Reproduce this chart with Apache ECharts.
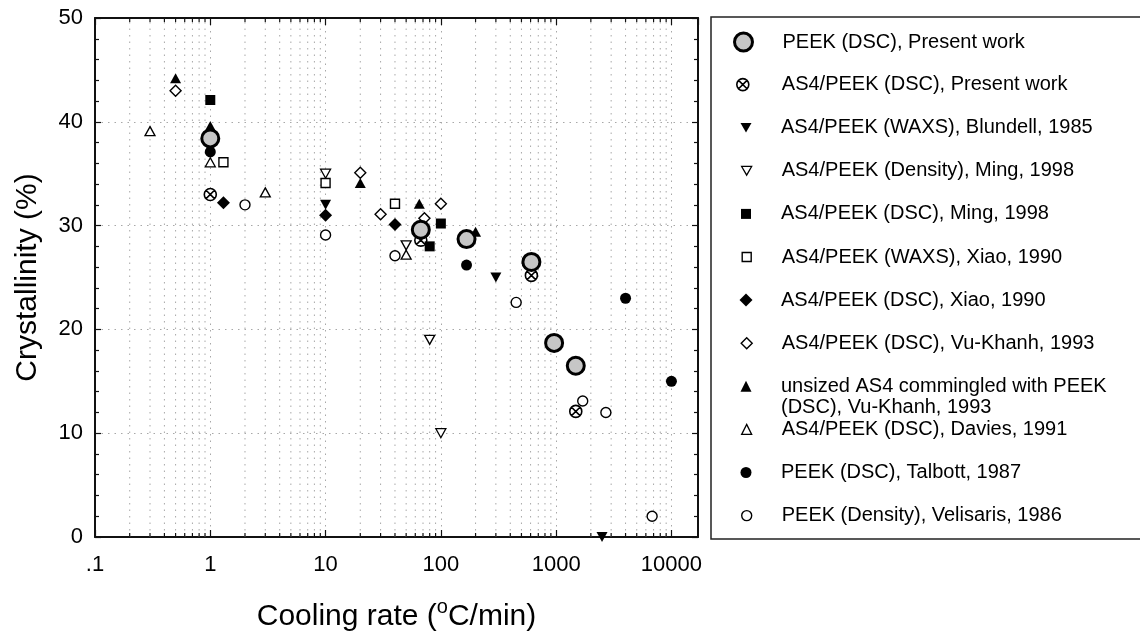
<!DOCTYPE html>
<html>
<head>
<meta charset="utf-8">
<script src="https://cdn.jsdelivr.net/npm/echarts@6/dist/echarts.min.js"></script>
<style>
  html, body { margin: 0; padding: 0; background: #fff; }
  #main { width: 1140px; height: 637px; }
</style>
</head>
<body>
<div id="main"></div>
<script>
var FONT = "'Liberation Sans', Arial, sans-serif";

// tick labels of the log axis
var xTickValues = [0.1, 1, 10, 100, 1000, 10000];
var xTickLabels = ['.1', '1', '10', '100', '1000', '10000'];

// legend names, in legend order
var seriesNames = [
  'PEEK (DSC), Present work',
  'AS4/PEEK (DSC), Present work',
  'AS4/PEEK (WAXS), Blundell, 1985',
  'AS4/PEEK (Density), Ming, 1998',
  'AS4/PEEK (DSC), Ming, 1998',
  'AS4/PEEK (WAXS), Xiao, 1990',
  'AS4/PEEK (DSC), Xiao, 1990',
  'AS4/PEEK (DSC), Vu-Khanh, 1993',
  'unsized AS4 commingled with PEEK\n(DSC), Vu-Khanh, 1993',
  'AS4/PEEK (DSC), Davies, 1991',
  'PEEK (DSC), Talbott, 1987',
  'PEEK (Density), Velisaris, 1986'
];

// [cooling rate (°C/min), crystallinity (%)]
var peekPresent    = [[1, 38.4], [67, 29.6], [167, 28.7], [610, 26.5], [960, 18.7], [1480, 16.5]];
var as4Present     = [[1, 33], [67, 28.6], [610, 25.2], [1480, 12.1]];
var blundellWaxs   = [[10, 32], [300, 25], [2500, 0]];
var mingDensity    = [[10, 35], [50, 28.1], [80, 19], [100, 10]];
var mingDsc        = [[1, 42.1], [100, 30.2], [80, 28]];
var xiaoWaxs       = [[1.3, 36.1], [10, 34.1], [40, 32.1]];
var xiaoDsc        = [[1.3, 32.2], [10, 31], [40, 30.1]];
var vuKhanhDsc     = [[0.5, 43], [20, 35.1], [30, 31.1], [72, 30.7], [100, 32.1]];
var unsizedAs4     = [[0.5, 44.2], [1, 39.6], [20, 34.1], [65, 32.1], [200, 29.4]];
var daviesDsc      = [[0.3, 39.1], [1, 36.1], [3, 33.2], [50, 27.2]];
var talbottDsc     = [[1, 37.1], [167, 26.2], [4000, 23], [10000, 15]];
var velisarisDens  = [[2, 32], [10, 29.1], [40, 27.1], [450, 22.6], [1700, 13.1], [2700, 12], [6800, 2]];

var seriesData = [peekPresent, as4Present, blundellWaxs, mingDensity, mingDsc, xiaoWaxs,
                  xiaoDsc, vuKhanhDsc, unsizedAs4, daviesDsc, talbottDsc, velisarisDens];

var crossCircle = 'path://M6,0 A6,6 0 1,1 -6,0 A6,6 0 1,1 6,0 Z M-4.2,-4.2 L4.2,4.2 M4.2,-4.2 L-4.2,4.2';
var downTri = 'path://M0,0 L12,0 L6,10.4 Z';

// marker look for each series
var looks = [
  {symbol: 'circle', size: 17, fill: '#c6c6c6', bw: 3, z: 5, legend: 18, cx: 742},
  {symbol: crossCircle, size: 12, fill: '#fff', bw: 1.6, cx: 742},
  {symbol: downTri, size: [11, 10], fill: '#000', bw: 0},
  {symbol: downTri, size: [10, 9], fill: '#fff', bw: 1.3},
  {symbol: 'rect', size: 10, fill: '#000', bw: 0},
  {symbol: 'rect', size: 9, fill: '#fff', bw: 1.4},
  {symbol: 'diamond', size: 13, fill: '#000', bw: 0},
  {symbol: 'diamond', size: 11, fill: '#fff', bw: 1.4},
  {symbol: 'triangle', size: [11, 10], fill: '#000', bw: 0},
  {symbol: 'triangle', size: [10, 9], fill: '#fff', bw: 1.3},
  {symbol: 'circle', size: 11, fill: '#000', bw: 0},
  {symbol: 'circle', size: 10, fill: '#fff', bw: 1.4}
];

// minor positions of the log axis (2..9 in each decade)
var minorX = [];
xTickValues.slice(0, -1).forEach(function (d) {
  for (var k = 2; k <= 9; k++) minorX.push([d * k, 0]);
});

var myChart = echarts.init(document.getElementById('main'), null, {renderer: 'canvas'});

function tickLabel(v) {
  var e = Math.log(v) / Math.LN10;
  for (var i = 0; i < xTickValues.length; i++) {
    if (Math.abs(e - Math.log(xTickValues[i]) / Math.LN10) < 0.01) return xTickLabels[i];
  }
  return '';
}

function renderMinor(params, api) {
  var x = api.value(0);
  var b = api.coord([x, 0]);
  var t = api.coord([x, 50]);
  var tick = {stroke: '#111', lineWidth: 1.2};
  return {
    type: 'group',
    children: [
      {type: 'line', shape: {x1: b[0], y1: b[1], x2: t[0], y2: t[1]},
       style: {stroke: '#a8a8a8', lineWidth: 1, lineDash: [1.5, 5]}},
      {type: 'line', shape: {x1: b[0], y1: b[1], x2: b[0], y2: b[1] - 4}, style: tick},
      {type: 'line', shape: {x1: t[0], y1: t[1], x2: t[0], y2: t[1] + 4}, style: tick}
    ]
  };
}

var axisLine = {show: true, onZero: false, lineStyle: {color: '#111', width: 2}};
var tickStyle = {color: '#111', width: 1.2};
var gridDots = {color: '#a8a8a8', width: 1, type: [1.5, 5]};

var series = [{
  type: 'custom',
  name: 'minor',
  data: minorX,
  renderItem: renderMinor,
  silent: true,
  z: 1,
  encode: {x: 0, y: 1}
}];

seriesNames.forEach(function (name, i) {
  var lk = looks[i];
  series.push({
    type: 'scatter',
    name: name,
    data: seriesData[i],
    symbol: lk.symbol,
    symbolSize: lk.size,
    z: lk.z || 3,
    itemStyle: {color: lk.fill, borderColor: '#000', borderWidth: lk.bw, opacity: 1},
    emphasis: {disabled: true}
  });
});

var legends = seriesNames.map(function (name, i) {
  var lk = looks[i];
  var s = lk.legend || (Array.isArray(lk.size) ? Math.max(lk.size[0], lk.size[1]) : lk.size);
  var cx = lk.cx || 746;
  var two = name.indexOf('\n') >= 0;
  var rowY = 41.5 + i * 43.1;
  return {
    data: [name],
    orient: 'vertical',
    align: 'left',
    padding: 0,
    selectedMode: false,
    left: cx - s / 2,
    top: rowY - (two ? 31.5 : 10),
    itemWidth: s,
    itemHeight: s,
    // blank first line keeps the first text line level with the symbol
    formatter: two ? function (n) { return ' \n' + n; } : '{name}',
    itemStyle: {borderWidth: lk.bw, borderColor: '#000'},
    textStyle: {
      fontFamily: FONT, fontSize: 20, color: '#000',
      lineHeight: two ? 21 : 20,
      padding: [0, 0, 0, 781 - (cx + s / 2 + 5)]
    }
  };
});

var option = {
  animation: false,
  backgroundColor: '#fff',
  textStyle: {fontFamily: FONT},
  grid: {left: 95, top: 18, width: 603, height: 519, containLabel: false, outerBoundsMode: 'none'},
  legend: legends,
  xAxis: [{
    type: 'log',
    logBase: 10,
    min: 0.1,
    max: 17000,
    position: 'bottom',
    axisLine: axisLine,
    axisTick: {show: true, inside: true, length: 7, lineStyle: tickStyle},
    axisLabel: {formatter: tickLabel, fontSize: 22, color: '#000', margin: 17,
                fontFamily: FONT, showMaxLabel: false},
    splitLine: {show: true, lineStyle: gridDots},
    name: 'Cooling rate ({sup|o}C/min)',
    nameLocation: 'middle',
    nameGap: 60,
    nameTextStyle: {fontSize: 30, lineHeight: 40, color: '#000', fontFamily: FONT,
                    rich: {sup: {fontSize: 20, lineHeight: 22, color: '#000',
                                 fontFamily: FONT, verticalAlign: 'top'}}}
  }, {
    type: 'log',
    logBase: 10,
    min: 0.1,
    max: 17000,
    position: 'top',
    axisLine: axisLine,
    axisTick: {show: true, inside: true, length: 7, lineStyle: tickStyle},
    axisLabel: {show: false},
    splitLine: {show: false}
  }],
  yAxis: [{
    type: 'value',
    min: 0,
    max: 50,
    interval: 10,
    position: 'left',
    axisLine: axisLine,
    axisTick: {show: true, inside: true, length: 6, lineStyle: tickStyle},
    minorTick: {show: true, splitNumber: 5, length: 4, lineStyle: tickStyle},
    axisLabel: {fontSize: 22, color: '#000', margin: 12, fontFamily: FONT},
    splitLine: {show: true, lineStyle: gridDots},
    name: 'Crystallinity (%)',
    nameLocation: 'middle',
    nameGap: 52,
    nameTextStyle: {fontSize: 30, color: '#000', fontFamily: FONT}
  }, {
    type: 'value',
    min: 0,
    max: 50,
    interval: 10,
    position: 'right',
    axisLine: axisLine,
    axisTick: {show: true, inside: true, length: 6, lineStyle: tickStyle},
    minorTick: {show: true, splitNumber: 5, length: 4, lineStyle: tickStyle},
    axisLabel: {show: false},
    splitLine: {show: false}
  }],
  graphic: [{
    type: 'rect',
    shape: {x: 711, y: 17, width: 440, height: 522},
    style: {fill: 'none', stroke: '#222', lineWidth: 1.5},
    silent: true
  }],
  series: series
};

myChart.setOption(option);
</script>
</body>
</html>
